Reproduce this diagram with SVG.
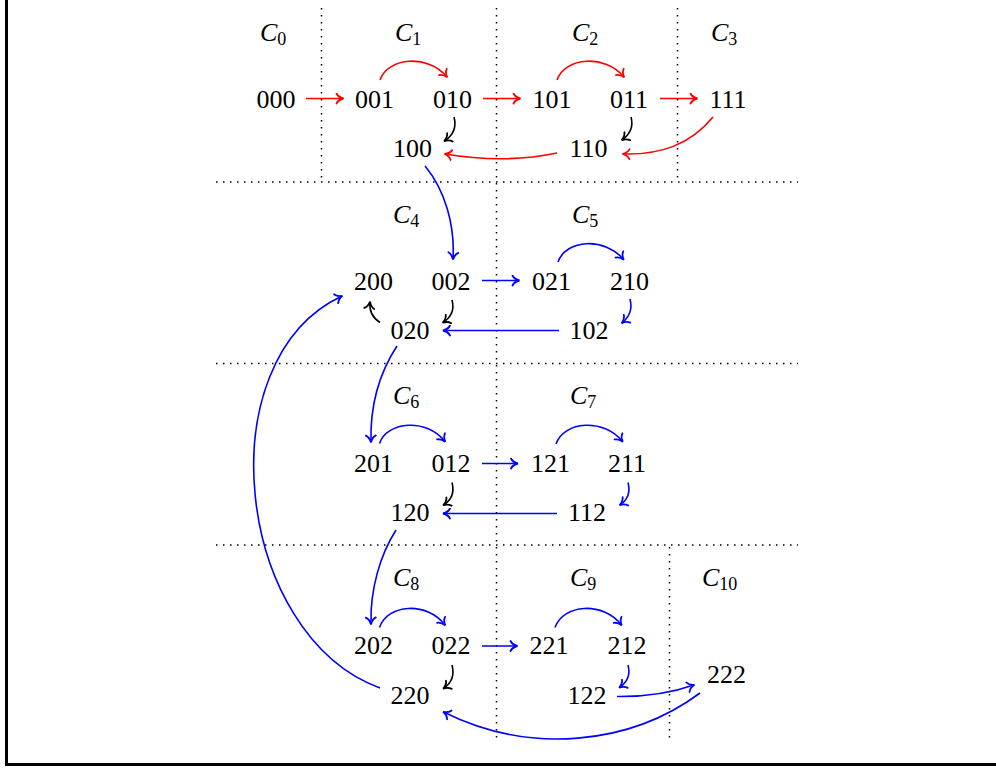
<svg xmlns="http://www.w3.org/2000/svg" width="996" height="769" viewBox="0 0 996 769">
<style>
.n{font-family:"Liberation Serif","DejaVu Serif",serif;font-size:26px;fill:#000;text-anchor:middle}
.c{font-family:"Liberation Serif","DejaVu Serif",serif;font-size:26px;font-style:italic;fill:#000}
.s{font-size:18px;font-style:normal}
.dot{stroke:#000;stroke-width:1.5;stroke-dasharray:1.5 5.5;fill:none}
.r{stroke:#f00;stroke-width:1.6;fill:none;marker-end:url(#ar)}
.b{stroke:#00f;stroke-width:1.6;fill:none;marker-end:url(#ab)}
.k{stroke:#000;stroke-width:1.6;fill:none;marker-end:url(#ak)}
</style>
<defs>
<marker id="ar" markerUnits="userSpaceOnUse" viewBox="-8 -6 10 12" refX="0" refY="0" markerWidth="10" markerHeight="12" orient="auto"><path d="M-6.5,-5 C-5,-2 -2,-0.6 0.5,0 C-2,0.6 -5,2 -6.5,5" stroke="#f00" stroke-width="1.8" fill="none" stroke-linecap="round"/></marker>
<marker id="ab" markerUnits="userSpaceOnUse" viewBox="-8 -6 10 12" refX="0" refY="0" markerWidth="10" markerHeight="12" orient="auto"><path d="M-6.5,-5 C-5,-2 -2,-0.6 0.5,0 C-2,0.6 -5,2 -6.5,5" stroke="#00f" stroke-width="1.8" fill="none" stroke-linecap="round"/></marker>
<marker id="ak" markerUnits="userSpaceOnUse" viewBox="-8 -6 10 12" refX="0" refY="0" markerWidth="10" markerHeight="12" orient="auto"><path d="M-6.5,-5 C-5,-2 -2,-0.6 0.5,0 C-2,0.6 -5,2 -6.5,5" stroke="#000" stroke-width="1.8" fill="none" stroke-linecap="round"/></marker>
</defs>
<rect width="996" height="769" fill="#fff"/>
<g id="frame" stroke="#000" stroke-width="3" fill="none">
<line x1="6.5" y1="0" x2="6.5" y2="766"/>
<line x1="5" y1="764.5" x2="996" y2="764.5"/>
</g>
<g id="grid">
<line class="dot" x1="216" y1="182" x2="798" y2="182"/>
<line class="dot" x1="216" y1="363.5" x2="798" y2="363.5"/>
<line class="dot" x1="216" y1="545" x2="798" y2="545"/>
<line class="dot" x1="321.5" y1="8" x2="321.5" y2="180"/>
<line class="dot" x1="496.5" y1="8" x2="496.5" y2="743"/>
<line class="dot" x1="677.5" y1="8" x2="677.5" y2="180"/>
<line class="dot" x1="669.5" y1="547" x2="669.5" y2="740"/>
</g>
<g id="labels">
<text class="c" x="260" y="41">C<tspan class="s" dy="4">0</tspan></text>
<text class="c" x="395" y="41">C<tspan class="s" dy="4">1</tspan></text>
<text class="c" x="572" y="41">C<tspan class="s" dy="4">2</tspan></text>
<text class="c" x="711" y="41">C<tspan class="s" dy="4">3</tspan></text>
<text class="c" x="393" y="222.5">C<tspan class="s" dy="4">4</tspan></text>
<text class="c" x="572" y="222.5">C<tspan class="s" dy="4">5</tspan></text>
<text class="c" x="393" y="404">C<tspan class="s" dy="4">6</tspan></text>
<text class="c" x="570" y="404">C<tspan class="s" dy="4">7</tspan></text>
<text class="c" x="393" y="586">C<tspan class="s" dy="4">8</tspan></text>
<text class="c" x="570" y="586">C<tspan class="s" dy="4">9</tspan></text>
<text class="c" x="702" y="586">C<tspan class="s" dy="4">10</tspan></text>
</g>
<g id="n000"><text class="n" x="276" y="108">000</text></g>
<g id="n001"><text class="n" x="374.5" y="108">001</text></g>
<g id="n010"><text class="n" x="452.5" y="108">010</text></g>
<g id="n100"><text class="n" x="412.5" y="157">100</text></g>
<g id="n101"><text class="n" x="552" y="108">101</text></g>
<g id="n011"><text class="n" x="629" y="108">011</text></g>
<g id="n110"><text class="n" x="588.5" y="157">110</text></g>
<g id="n111"><text class="n" x="728" y="108">111</text></g>
<g id="n200"><text class="n" x="373.5" y="290">200</text></g>
<g id="n002"><text class="n" x="451" y="290">002</text></g>
<g id="n020"><text class="n" x="410" y="339">020</text></g>
<g id="n021"><text class="n" x="551.5" y="290">021</text></g>
<g id="n210"><text class="n" x="629.5" y="290">210</text></g>
<g id="n102"><text class="n" x="589" y="339">102</text></g>
<g id="n201"><text class="n" x="373.5" y="471.5">201</text></g>
<g id="n012"><text class="n" x="451" y="471.5">012</text></g>
<g id="n120"><text class="n" x="410" y="521">120</text></g>
<g id="n121"><text class="n" x="550.5" y="471.5">121</text></g>
<g id="n211"><text class="n" x="627" y="471.5">211</text></g>
<g id="n112"><text class="n" x="587" y="521">112</text></g>
<g id="n202"><text class="n" x="373.5" y="654">202</text></g>
<g id="n022"><text class="n" x="451" y="654">022</text></g>
<g id="n220"><text class="n" x="410" y="704">220</text></g>
<g id="n221"><text class="n" x="549" y="654">221</text></g>
<g id="n212"><text class="n" x="627" y="654">212</text></g>
<g id="n122"><text class="n" x="587" y="704">122</text></g>
<g id="n222"><text class="n" x="726.5" y="683">222</text></g>
<g id="edges">
<path class="r" d="M306,98.5 L343,98.5"/>
<path class="r" d="M380,80 C388,57 428,54 447,77"/>
<path class="r" d="M483,98.5 L520,98.5"/>
<path class="k" d="M454,117 C457,128 452,136 444.5,141"/>
<path class="r" d="M557,153 Q505,164 445,154"/>
<path class="r" d="M557,80 C565,57 605,54 624,77"/>
<path class="r" d="M660,98.5 L697,98.5"/>
<path class="k" d="M631,117 C634,128 629,135 622,140"/>
<path class="r" d="M713,117 C690,145 660,155 623,154"/>
<path class="b" d="M425,166 C445,190 455,225 453,259"/>
<path class="b" d="M482,280.5 L519,280.5"/>
<path class="b" d="M558,262 C566,239 605,237 623.5,259.5"/>
<path class="b" d="M630,299 C633,310 628,318 622,323"/>
<path class="b" d="M559,330.5 L443.5,330.5"/>
<path class="k" d="M452,300 C455,311 450,318 443,322.5"/>
<path class="k" d="M380,322.5 C373,318 369,311 370,302"/>
<path class="b" d="M397,346 C380,372 370,405 371,442"/>
<path class="b" d="M380,688 C235,635 205,360 342,296"/>
<path class="b" d="M379.5,443.5 C387,421 427,418 445,441.5"/>
<path class="b" d="M482,463.5 L517.5,463.5"/>
<path class="b" d="M556,444 C564,421 604,418 622.5,441.5"/>
<path class="b" d="M628,482.5 C631,494 626,501 620,505"/>
<path class="b" d="M557,513.5 L443.5,513.5"/>
<path class="k" d="M452,482.5 C455,494 450,501 443.5,505"/>
<path class="b" d="M396,530 C380,555 370,590 371,624"/>
<path class="b" d="M379.5,627.5 C387,604 427,601 445,625"/>
<path class="b" d="M482,646 L517,646"/>
<path class="b" d="M555,627.5 C563,604 603,601 621.5,625"/>
<path class="b" d="M628,665 C631,676 626,683 619.5,687.5"/>
<path class="k" d="M452,665 C455,676 450,684 443.5,688.5"/>
<path class="b" d="M617,696.5 Q660,697 694,685"/>
<path class="b" d="M700,693 C630,745 530,755 443.5,712"/>
</g>
</svg>
